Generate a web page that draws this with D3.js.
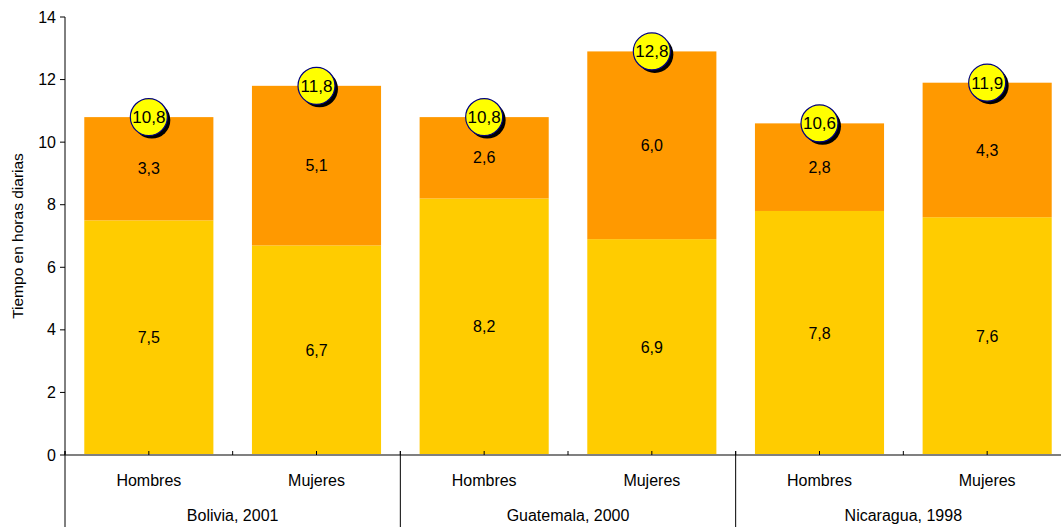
<!DOCTYPE html>
<html>
<head>
<meta charset="utf-8">
<script src="https://cdn.jsdelivr.net/npm/d3@7"></script>
<style>
  body { margin: 0; background: #fff; }
  text { font-family: "Liberation Sans", Arial, sans-serif; fill: #000; }
</style>
</head>
<body>
<script>
// chart data
const groups = ["Bolivia, 2001", "Guatemala, 2000", "Nicaragua, 1998"];
const sexes = ["Hombres", "Mujeres"];
const bottomValues = [7.5, 6.7, 8.2, 6.9, 7.8, 7.6];
const topValues = [3.3, 5.1, 2.6, 6.0, 2.8, 4.3];
const totalLabels = ["10,8", "11,8", "10,8", "12,8", "10,6", "11,9"];
const yTicks = [0, 2, 4, 6, 8, 10, 12, 14];

const width = 1061, height = 527;
const x0 = 65, x1 = 1071, yTop = 17, yBottom = 455;

const svg = d3.select("body")
    .append("svg")
    .attr("width", width)
    .attr("height", height);

// one band for each bar
const keys = [];
groups.forEach(g => sexes.forEach(s => keys.push(g + "|" + s)));

const x = d3.scaleBand()
    .domain(keys)
    .range([x0, x1])
    .paddingInner(0.23)
    .paddingOuter(0.115);

const xStep = d3.scaleBand().domain(keys).range([x0, x1]);

const y = d3.scaleLinear()
    .domain([0, 14])
    .range([yBottom, yTop]);

const fmt = v => d3.format(".1f")(v).replace(".", ",");

// bars
const rows = keys.map((k, i) => ({key: k, b: bottomValues[i], t: topValues[i], total: totalLabels[i]}));

svg.selectAll(".barBottom")
    .data(rows)
    .join("rect")
    .attr("x", d => x(d.key))
    .attr("width", x.bandwidth())
    .attr("y", d => y(d.b))
    .attr("height", d => y(0) - y(d.b))
    .attr("fill", "#ffcc00");

svg.selectAll(".barTop")
    .data(rows)
    .join("rect")
    .attr("x", d => x(d.key))
    .attr("width", x.bandwidth())
    .attr("y", d => y(d.b + d.t))
    .attr("height", d => y(d.b) - y(d.b + d.t))
    .attr("fill", "#ff9900");

// segment labels
svg.selectAll(".lblBottom")
    .data(rows)
    .join("text")
    .attr("x", d => x(d.key) + x.bandwidth() / 2)
    .attr("y", d => y(d.b / 2))
    .attr("dy", "0.35em")
    .attr("text-anchor", "middle")
    .style("font-size", "16px")
    .text(d => fmt(d.b));

svg.selectAll(".lblTop")
    .data(rows)
    .join("text")
    .attr("x", d => x(d.key) + x.bandwidth() / 2)
    .attr("y", d => y(d.b + d.t / 2))
    .attr("dy", "0.35em")
    .attr("text-anchor", "middle")
    .style("font-size", "16px")
    .text(d => fmt(d.t));

// y axis
const yAxis = svg.append("g");
yAxis.append("line")
    .attr("x1", x0).attr("x2", x0)
    .attr("y1", y(14)).attr("y2", y(0))
    .attr("stroke", "#000");
yAxis.selectAll(".ytick")
    .data(yTicks)
    .join("line")
    .attr("x1", x0 - 5).attr("x2", x0)
    .attr("y1", d => y(d)).attr("y2", d => y(d))
    .attr("stroke", "#000");
yAxis.selectAll(".ylab")
    .data(yTicks)
    .join("text")
    .attr("x", x0 - 9)
    .attr("y", d => y(d))
    .attr("dy", "0.35em")
    .attr("text-anchor", "end")
    .style("font-size", "16px")
    .text(d => d);

svg.append("text")
    .attr("transform", "translate(23," + y(7) + ") rotate(-90)")
    .attr("text-anchor", "middle")
    .style("font-size", "15.5px")
    .text("Tiempo en horas diarias");

// x axis
svg.append("line")
    .attr("x1", x0).attr("x2", x1)
    .attr("y1", y(0)).attr("y2", y(0))
    .attr("stroke", "#808080")
    .attr("stroke-width", 2);

// small ticks at bar centres and band edges
svg.selectAll(".xtickC")
    .data(keys)
    .join("line")
    .attr("x1", d => xStep(d) + xStep.bandwidth() / 2)
    .attr("x2", d => xStep(d) + xStep.bandwidth() / 2)
    .attr("y1", y(0) - 4).attr("y2", y(0))
    .attr("stroke", "#000");

svg.selectAll(".xtickE")
    .data(keys)
    .join("line")
    .attr("x1", d => xStep(d))
    .attr("x2", d => xStep(d))
    .attr("y1", y(0) - 4).attr("y2", y(0))
    .attr("stroke", "#000");

// group separators
svg.selectAll(".sep")
    .data(groups)
    .join("line")
    .attr("x1", g => xStep(g + "|Hombres"))
    .attr("x2", g => xStep(g + "|Hombres"))
    .attr("y1", y(0) - 4).attr("y2", height)
    .attr("stroke", "#000");

// sub-category labels
svg.selectAll(".sexLabel")
    .data(keys)
    .join("text")
    .attr("x", d => xStep(d) + xStep.bandwidth() / 2)
    .attr("y", 486)
    .attr("text-anchor", "middle")
    .style("font-size", "16px")
    .text(d => d.split("|")[1]);

// group labels
svg.selectAll(".groupLabel")
    .data(groups)
    .join("text")
    .attr("x", g => xStep(g + "|Hombres") + xStep.step())
    .attr("y", 521)
    .attr("text-anchor", "middle")
    .style("font-size", "16px")
    .text(g => g);

// total bubbles
const bubble = svg.selectAll(".bubble")
    .data(rows)
    .join("g")
    .attr("transform", d => "translate(" + (x(d.key) + x.bandwidth() / 2) + "," + y(d.b + d.t) + ")");

bubble.append("circle")
    .attr("cx", 3).attr("cy", 3)
    .attr("r", 18.5)
    .attr("fill", "#000");

bubble.append("circle")
    .attr("r", 18.5)
    .attr("fill", "#ffff00")
    .attr("stroke", "#000080")
    .attr("stroke-width", 1.2);

bubble.append("text")
    .attr("dy", "0.35em")
    .attr("text-anchor", "middle")
    .style("font-size", "17px")
    .text(d => d.total);
</script>
</body>
</html>
